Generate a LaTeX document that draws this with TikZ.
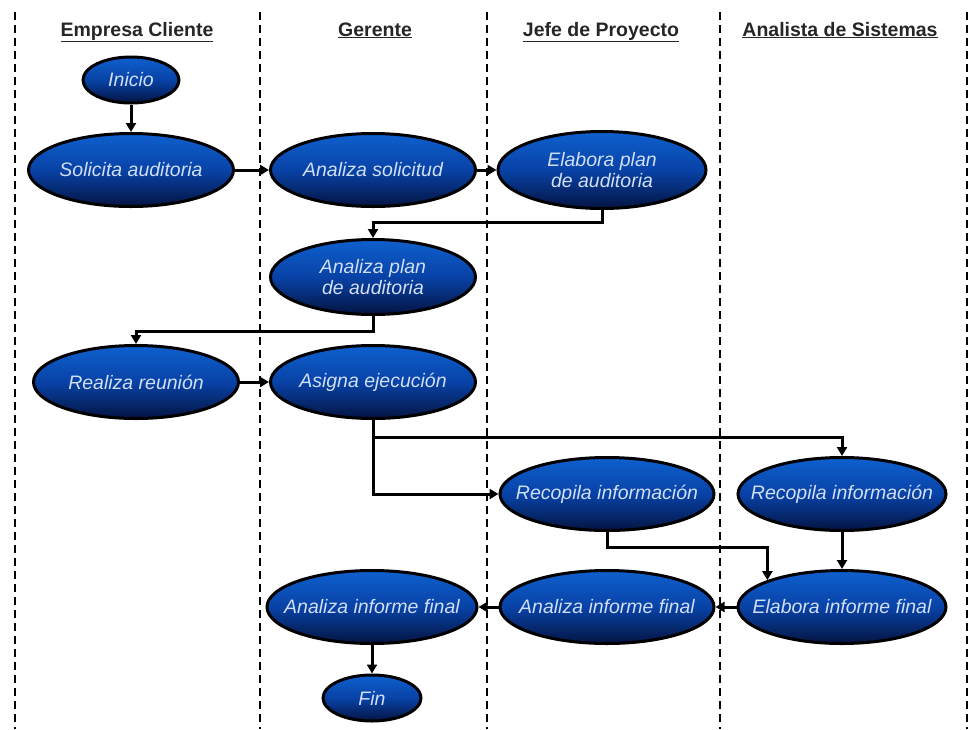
\documentclass[tikz,border=0pt]{standalone}
\usepackage{fontspec}
\setmainfont{Liberation Sans}
\usetikzlibrary{shapes.geometric,arrows.meta,calc}

\definecolor{boxtop}{RGB}{14,96,206}
\definecolor{boxmid}{RGB}{8,66,166}
\definecolor{boxbot}{RGB}{4,20,66}
\definecolor{labeltext}{RGB}{208,222,246}
\definecolor{headtext}{RGB}{38,38,38}

\begin{document}
\begin{tikzpicture}[x=1pt,y=-1pt,
  task/.style={ellipse, draw=black, line width=3pt,
    top color=boxtop, bottom color=boxbot, middle color=boxmid,
    minimum width=#1, minimum height=73pt, inner xsep=-40pt, inner ysep=-12pt,
    font=\fontsize{19.5}{21}\selectfont\itshape, text=labeltext, align=center},
  task/.default=205,
  term/.style={task=#1, minimum height=46pt},
  head/.style={font=\fontsize{19.5}{21}\selectfont\bfseries, text=headtext, anchor=base},
  lane/.style={draw=black, line width=2.4pt, dash pattern=on 8pt off 5pt},
  flow/.style={draw=black, line width=3pt, -{Triangle[length=9pt,width=10pt]}}
]
\useasboundingbox (0,0) rectangle (971,729);

% swimlane separators
\foreach \lx in {15,260,487,720,967}
  \draw[lane] (\lx,12) -- (\lx,729);

% lane titles
\node[head] (h1) at (137,36) {\underline{Empresa Cliente}};
\node[head] (h2) at (375,36) {\underline{Gerente}};
\node[head] (h3) at (601,36) {\underline{Jefe de Proyecto}};
\node[head] (h4) at (840,36) {\underline{Analista de Sistemas}};

% activities
\node[term=96] (ini) at (131,80) {Inicio};
\node[task] (sol) at (131,170) {Solicita auditoria};
\node[task] (asol) at (373,170) {Analiza solicitud};
\node[task=208, minimum height=77pt] (plan) at (602,170) {Elabora plan\\de auditoria};
\node[task, minimum height=75pt] (aplan) at (373,277) {Analiza plan\\de auditoria};
\node[task] (reu) at (136,382) {Realiza reunión};
\node[task] (asig) at (373,382) {Asigna ejecución};
\node[task=214] (rjp) at (607,494) {Recopila información};
\node[task=208] (ras) at (842,494) {Recopila información};
\node[task=208] (elab) at (842,607) {Elabora informe final};
\node[task=214] (ajp) at (607,607) {Analiza informe final};
\node[task=210] (ager) at (372,607) {Analiza informe final};
\node[term=98] (fin) at (372,698) {Fin};

% flow
\draw[flow] (ini) -- (sol);
\draw[flow] (sol) -- (asol);
\draw[flow] (asol) -- (plan);
\draw[flow] (plan.south) -- ++(0,12) -| (aplan.north);
\draw[flow] (aplan.south) -- ++(0,15) -| (reu.north);
\draw[flow] (reu) -- (asig);
\draw[flow] (asig.south) |- (rjp.west);
\coordinate (split) at ($(asig.south)+(0,17)$);
\draw[flow] (split) -| (ras.north);
\draw[flow] (rjp.south) -- ++(0,15) -| (elab.north west);
\draw[flow] (ras) -- (elab);
\draw[flow] (elab) -- (ajp);
\draw[flow] (ajp) -- (ager);
\draw[flow] (ager) -- (fin);
\end{tikzpicture}
\end{document}
